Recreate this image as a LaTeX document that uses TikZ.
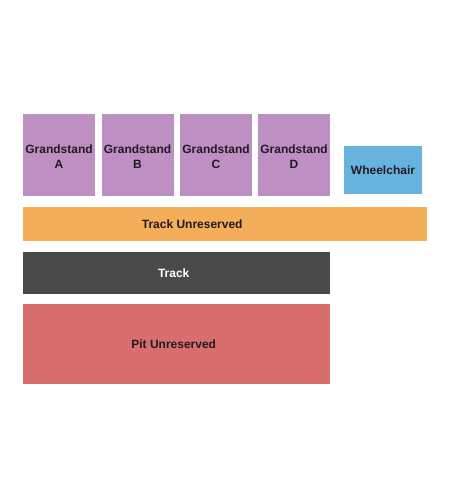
\documentclass[tikz,border=0pt]{standalone}
\usepackage{fontspec}
\setmainfont{Liberation Sans}
\usetikzlibrary{positioning}
\definecolor{seatPurple}{HTML}{BD8FC3}
\definecolor{seatBlue}{HTML}{66B4DE}
\definecolor{seatOrange}{HTML}{F4AD58}
\definecolor{seatDark}{HTML}{4A4A4A}
\definecolor{seatRed}{HTML}{D86E6E}
\definecolor{labelInk}{HTML}{231A24}

\begin{document}
\begin{tikzpicture}[x=1pt, y=-1pt,
  section/.style={inner sep=0pt, align=center, text=labelInk,
    font=\fontsize{12}{15}\selectfont\bfseries},
  stand/.style={section, fill=seatPurple, minimum width=72pt, minimum height=82pt},
  wheel/.style={section, fill=seatBlue, minimum width=78pt, minimum height=48pt},
  band/.style={section, anchor=north west},
]

% canvas
\fill[white] (0,0) rectangle (450,500);
\useasboundingbox (0,0) rectangle (450,500);

% === Grandstands ===
\foreach \name/\cx in {A/59, B/137.5, C/216, D/294} {
  \node[stand, label={[section, yshift=-1.5pt]center:{Grandstand\\\name}}]
    (stand-\name) at (\cx, 155) {};
}
\node[wheel] (wheelchair) at (383, 170) {Wheelchair};

% === Track and pit ===
\node[band, fill=seatOrange, minimum width=404pt, minimum height=34pt,
  label={[section, xshift=-33pt]center:Track Unreserved}]
  (track-unres) at (23, 207) {};
\node[band, fill=seatDark, minimum width=307pt, minimum height=42pt,
  label={[section, text=white, xshift=-3pt]center:Track}]
  (track) at (23, 252) {};
\node[band, fill=seatRed, minimum width=307pt, minimum height=80pt,
  label={[section, xshift=-3pt]center:Pit Unreserved}]
  (pit) at (23, 304) {};

\end{tikzpicture}
\end{document}
